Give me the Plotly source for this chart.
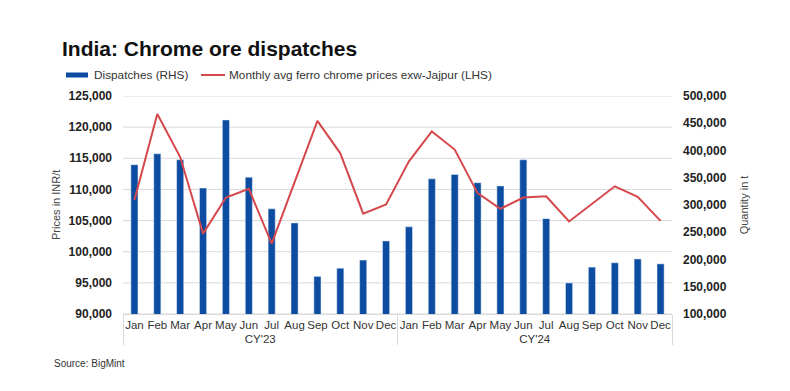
import plotly.graph_objects as go

years = ["CY'23"] * 12 + ["CY'24"] * 12
months = ["Jan", "Feb", "Mar", "Apr", "May", "Jun", "Jul", "Aug", "Sep", "Oct", "Nov", "Dec"] * 2

dispatches = [374000, 394000, 383000, 331000, 456000, 351000, 293000, 267000, 169000, 184000, 199000, 234000,
              260000, 348000, 356000, 341000, 335000, 383000, 275000, 157000, 186000, 194000, 201000, 192000]

prices = [108300, 122100, 115200, 102900, 108700, 110100, 101300, 111200, 121000, 115800, 106100, 107600,
          114500, 119300, 116400, 109400, 106900, 108700, 108900, 104850, 107750, 110500, 108800, 104950]

price_ticks = list(range(90000, 125001, 5000))
qty_ticks = list(range(100000, 500001, 50000))

BLUE = "#0C4DA2"
RED = "#D5484B"
TXT = "#222222"

OFF = 8  # page body margin offset
W, H = 790 - OFF, 391 - OFF
L, R, T, B = 123 - OFF, 671.7 - OFF, 96 - OFF, 314 - OFF  # plot area in page px (shifted)

fig = go.Figure()
fig.add_trace(go.Bar(x=[years, months], y=dispatches, yaxis="y", marker_color=BLUE,
                     width=0.31, name="Dispatches (RHS)", showlegend=False))
fig.add_trace(go.Scatter(x=[years, months], y=prices, yaxis="y2", mode="lines",
                         line=dict(color=RED, width=2), name="Monthly avg ferro chrome prices exw-Jajpur (LHS)",
                         showlegend=False))

tickfont = dict(family="Liberation Sans", size=12, color=TXT, weight="bold")

fig.update_layout(
    width=W, height=H,
    margin=dict(l=L, r=W - R, t=T, b=H - B, autoexpand=False),
    paper_bgcolor="white", plot_bgcolor="white",
    font=dict(family="Liberation Sans", color=TXT),
    xaxis=dict(type="multicategory", showgrid=False, showline=True, linecolor="#d9d9d9",
               tickfont=dict(family="Liberation Sans", size=11.5, color="#333333"), tickangle=0,
               dividercolor="#d9d9d9", dividerwidth=1, ticks="", automargin=False),
    yaxis=dict(side="right", range=[100000, 500000], tickvals=qty_ticks,
               ticktext=[f"{v:,}" for v in qty_ticks], showgrid=False,
               zeroline=False, tickfont=tickfont, ticklabelstandoff=10, automargin=False),
    yaxis2=dict(side="left", overlaying="y", range=[90000, 125000], tickvals=price_ticks,
                ticktext=[f"{v:,}" for v in price_ticks], showgrid=False,
                zeroline=False, tickfont=tickfont, ticklabelstandoff=10, automargin=False),
    showlegend=False,
)

def px_x(px):
    return (px - OFF - L) / (R - L)

def px_y(py):
    return (B - (py - OFF)) / (B - T)

# gridlines for the left (price) axis, drawn below the bars
for v in price_ticks:
    fig.add_shape(type="line", xref="paper", yref="y2", x0=0, x1=1, y0=v, y1=v,
                  line=dict(color="#d9d9d9", width=1), layer="below")

fig.add_annotation(text="<b>India: Chrome ore dispatches</b>", xref="paper", yref="paper",
                   x=px_x(60), y=px_y(48), xanchor="left", yanchor="middle",
                   showarrow=False, font=dict(family="Liberation Sans", size=21, color="#111111"))

# manual legend
fig.add_shape(type="rect", xref="paper", yref="paper", x0=px_x(66), x1=px_x(88), y0=px_y(77.5), y1=px_y(72.5),
              fillcolor=BLUE, line=dict(width=0))
fig.add_annotation(text="Dispatches (RHS)", xref="paper", yref="paper", x=px_x(92), y=px_y(75),
                   xanchor="left", yanchor="middle", showarrow=False,
                   font=dict(family="Liberation Sans", size=11.8, color="#333333"))
fig.add_shape(type="line", xref="paper", yref="paper", x0=px_x(201), x1=px_x(225), y0=px_y(75), y1=px_y(75),
              line=dict(color=RED, width=2))
fig.add_annotation(text="Monthly avg ferro chrome prices exw-Jajpur (LHS)", xref="paper", yref="paper",
                   x=px_x(227), y=px_y(75), xanchor="left", yanchor="middle", showarrow=False,
                   font=dict(family="Liberation Sans", size=11.8, color="#333333"))

fig.add_annotation(text="Prices in INR/t", xref="paper", yref="paper", x=px_x(56), y=0.5,
                   textangle=-90, xanchor="center", yanchor="middle", showarrow=False,
                   font=dict(family="Liberation Sans", size=11, color="#444444"))
fig.add_annotation(text="Quantity in t", xref="paper", yref="paper", x=px_x(744), y=0.5,
                   textangle=-90, xanchor="center", yanchor="middle", showarrow=False,
                   font=dict(family="Liberation Sans", size=11, color="#444444"))
fig.add_annotation(text="Source: BigMint", xref="paper", yref="paper", x=px_x(52), y=px_y(363),
                   xanchor="left", yanchor="middle", showarrow=False,
                   font=dict(family="Liberation Sans", size=10, color="#333333"))

fig.write_html("out.html")
